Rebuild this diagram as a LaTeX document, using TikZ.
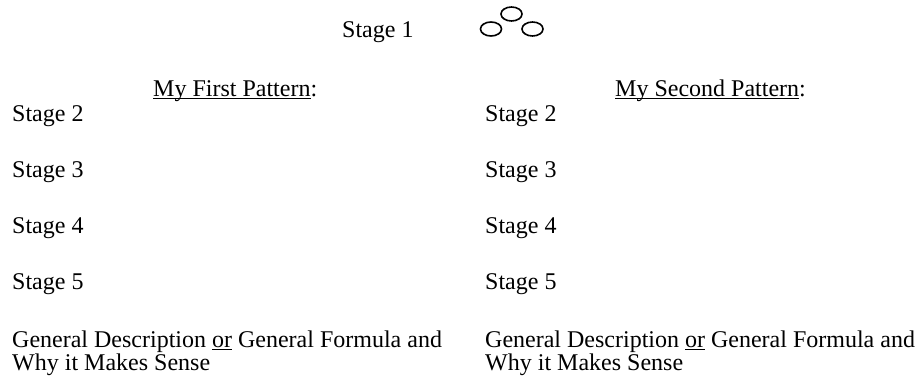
\documentclass[tikz,border=0pt]{standalone}
\usepackage{fontspec}
\setmainfont{Liberation Serif}
\newcommand\myul[1]{\setbox0\hbox{#1}\rlap{\rule[-3pt]{\wd0}{1.3pt}}\box0\relax}
\tikzset{
  txt/.style={anchor=base west, inner sep=0pt, font=\fontsize{24}{24}\selectfont},
  ring/.style={line width=1.6pt}
}
\begin{document}
\begin{tikzpicture}[x=1pt,y=-1pt]
\useasboundingbox (0,0) rectangle (924,382);
\node[txt] (s1) at (342,38) {Stage 1};
\draw[ring] (491,29) ellipse [x radius=10.5, y radius=7];
\draw[ring] (511.5,14) ellipse [x radius=10.5, y radius=7];
\draw[ring] (532.5,29) ellipse [x radius=10.5, y radius=7];

\node[txt] (h1) at (153,96.5) {\myul{My First Pattern}:};
\node[txt] (h2) at (615,96.5) {\myul{My Second Pattern}:};

\node[txt] (a2) at (12,122) {Stage 2};
\node[txt] (a3) at (12,178) {Stage 3};
\node[txt] (a4) at (12,234) {Stage 4};
\node[txt] (a5) at (12,290) {Stage 5};
\node[txt] (b2) at (485,122) {Stage 2};
\node[txt] (b3) at (485,178) {Stage 3};
\node[txt] (b4) at (485,234) {Stage 4};
\node[txt] (b5) at (485,290) {Stage 5};

\node[txt] (ag1) at (12,347) {General Description \myul{or} General Formula and};
\node[txt] (ag2) at (12,370) {Why it Makes Sense};
\node[txt] (bg1) at (485,347) {General Description \myul{or} General Formula and};
\node[txt] (bg2) at (485,370) {Why it Makes Sense};
\end{tikzpicture}
\end{document}
